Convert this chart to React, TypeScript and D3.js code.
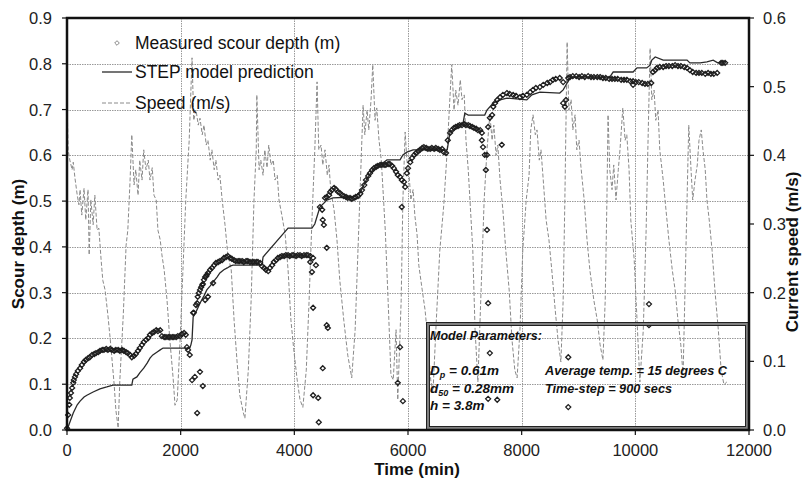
import React from "react";
import * as d3 from "d3";

type Pt = [number, number];

const timeTicks = [0, 2000, 4000, 6000, 8000, 10000, 12000];
const depthTicks = [0, 0.1, 0.2, 0.3, 0.4, 0.5, 0.6, 0.7, 0.8, 0.9];
const speedTicks = [0, 0.1, 0.2, 0.3, 0.4, 0.5, 0.6];

const legendLabels = ["Measured scour depth (m)", "STEP model prediction", "Speed (m/s)"];
const xTitle = "Time (min)";
const yLeftTitle = "Scour depth (m)";
const yRightTitle = "Current speed (m/s)";

// Measured scour depth (time min, depth m)
const measured: Pt[] = [
  [0, 0.004], [20, 0.033], [40, 0.055], [50, 0.07], [70, 0.081], [90, 0.092], [110, 0.103], [120, 0.109],
  [140, 0.116], [160, 0.122], [190, 0.129], [230, 0.135], [260, 0.142], [300, 0.149], [330, 0.153],
  [370, 0.157], [400, 0.159], [440, 0.164], [480, 0.166], [510, 0.168], [550, 0.17], [580, 0.173],
  [620, 0.175], [650, 0.175], [690, 0.177], [720, 0.175], [760, 0.177], [790, 0.175], [830, 0.173],
  [860, 0.175], [900, 0.175], [930, 0.173], [970, 0.175], [1000, 0.173], [1040, 0.17], [1070, 0.168],
  [1110, 0.164], [1140, 0.159], [1180, 0.162], [1210, 0.166], [1250, 0.173], [1280, 0.179], [1320, 0.186],
  [1350, 0.192], [1390, 0.197], [1430, 0.201], [1460, 0.208], [1500, 0.212], [1530, 0.214], [1570, 0.218],
  [1600, 0.216], [1640, 0.218], [1670, 0.205], [1710, 0.203], [1740, 0.203], [1780, 0.203], [1810, 0.203],
  [1850, 0.203], [1880, 0.203], [1920, 0.203], [1950, 0.205], [1990, 0.205], [2020, 0.21], [2060, 0.212],
  [2090, 0.208], [2110, 0.181], [2130, 0.175], [2160, 0.164],
  [2200, 0.109], [2250, 0.116], [2290, 0.037], [2340, 0.127], [2390, 0.096],
  [2220, 0.256], [2230, 0.256], [2270, 0.273], [2290, 0.277], [2300, 0.291], [2320, 0.299], [2340, 0.306],
  [2360, 0.312], [2380, 0.317], [2390, 0.319], [2410, 0.328], [2430, 0.334], [2450, 0.336], [2460, 0.339],
  [2480, 0.343], [2520, 0.35], [2550, 0.354], [2590, 0.36], [2620, 0.365], [2660, 0.367], [2690, 0.369],
  [2730, 0.371], [2760, 0.376], [2800, 0.378], [2830, 0.38], [2870, 0.376], [2900, 0.374], [2940, 0.371],
  [2430, 0.284], [2480, 0.291], [2570, 0.321],
  [2970, 0.369], [3010, 0.369], [3040, 0.369], [3080, 0.369], [3110, 0.367], [3150, 0.369], [3180, 0.369],
  [3220, 0.367], [3260, 0.367], [3290, 0.367], [3330, 0.367], [3360, 0.367], [3400, 0.365], [3430, 0.358],
  [3470, 0.354], [3500, 0.35], [3540, 0.347], [3570, 0.354], [3610, 0.36], [3640, 0.367], [3680, 0.371],
  [3710, 0.376], [3750, 0.378], [3780, 0.38], [3820, 0.38], [3850, 0.382], [3890, 0.382], [3920, 0.38],
  [3960, 0.382], [3990, 0.382], [4030, 0.38], [4060, 0.382], [4100, 0.382], [4130, 0.38], [4170, 0.382],
  [4210, 0.382], [4240, 0.382], [4280, 0.38],
  [4280, 0.367], [4310, 0.345], [4330, 0.376], [4380, 0.36], [4570, 0.398], [4330, 0.267], [4570, 0.229],
  [4590, 0.223], [4500, 0.135], [4330, 0.076], [4420, 0.07], [4430, 0.017],
  [4450, 0.487], [4490, 0.481], [4500, 0.459], [4520, 0.448], [4540, 0.507], [4570, 0.509], [4610, 0.513],
  [4630, 0.52], [4660, 0.524], [4700, 0.529], [4730, 0.526], [4770, 0.52], [4800, 0.518], [4840, 0.513],
  [4870, 0.511], [4910, 0.509], [4940, 0.507], [4980, 0.507], [5010, 0.505], [5050, 0.507], [5080, 0.509],
  [5120, 0.511], [5160, 0.516], [5190, 0.524], [5230, 0.535], [5260, 0.546], [5300, 0.555], [5330, 0.561],
  [5370, 0.568], [5400, 0.572], [5440, 0.575], [5470, 0.577], [5510, 0.579], [5540, 0.579], [5580, 0.579],
  [5610, 0.579], [5650, 0.581], [5680, 0.581], [5720, 0.577], [5750, 0.572], [5790, 0.564], [5820, 0.557],
  [5860, 0.553], [5890, 0.546], [5930, 0.542], [5950, 0.531],
  [5860, 0.181], [5820, 0.103], [5910, 0.063], [5890, 0.487],
  [5980, 0.561], [6000, 0.572], [6040, 0.585], [6070, 0.594], [6110, 0.601], [6140, 0.605], [6180, 0.609],
  [6210, 0.612], [6250, 0.616], [6280, 0.618], [6320, 0.616], [6350, 0.614], [6390, 0.614], [6420, 0.616],
  [6460, 0.614], [6490, 0.616], [6530, 0.614], [6560, 0.612], [6600, 0.614], [6630, 0.607], [6670, 0.605],
  [6700, 0.633], [6740, 0.649], [6770, 0.655], [6810, 0.66], [6840, 0.662], [6880, 0.664], [6910, 0.666],
  [6950, 0.666], [6990, 0.668], [7020, 0.666], [7060, 0.666], [7090, 0.664], [7130, 0.662], [7160, 0.66],
  [7200, 0.658], [7230, 0.655], [7270, 0.655], [7300, 0.649],
  [7300, 0.633], [7320, 0.618], [7350, 0.601], [7390, 0.601], [7370, 0.568], [7390, 0.437], [7410, 0.277],
  [7440, 0.168], [7410, 0.068], [7570, 0.066], [7650, 0.623],
  [7410, 0.662], [7440, 0.682], [7480, 0.688], [7500, 0.706], [7530, 0.714], [7570, 0.721], [7620, 0.727],
  [7670, 0.732], [7740, 0.736], [7790, 0.734], [7850, 0.732], [7900, 0.73], [7970, 0.727], [8020, 0.73],
  [8090, 0.732], [8150, 0.738], [8200, 0.743], [8250, 0.747], [8320, 0.749], [8380, 0.754], [8450, 0.758],
  [8500, 0.76], [8550, 0.765], [8600, 0.767], [8670, 0.769], [8730, 0.76],
  [8730, 0.714], [8760, 0.706], [8780, 0.721], [8820, 0.159], [8820, 0.05],
  [8820, 0.769], [8850, 0.771], [8900, 0.773], [8960, 0.773], [9010, 0.771], [9060, 0.773], [9110, 0.771],
  [9170, 0.773], [9220, 0.771], [9270, 0.771], [9330, 0.771], [9380, 0.771], [9430, 0.769], [9480, 0.769],
  [9540, 0.767], [9590, 0.767], [9640, 0.767], [9690, 0.767], [9750, 0.765], [9800, 0.765], [9850, 0.765],
  [9910, 0.762], [9960, 0.762], [10010, 0.76], [10060, 0.76], [10120, 0.758], [10170, 0.756], [10220, 0.756],
  [10280, 0.758],
  [9960, 0.754], [10240, 0.275], [10240, 0.229],
  [10310, 0.782], [10350, 0.786], [10380, 0.791], [10430, 0.793], [10490, 0.793], [10540, 0.795],
  [10590, 0.795], [10650, 0.795], [10700, 0.797], [10750, 0.795], [10800, 0.795], [10860, 0.793],
  [10910, 0.791], [10960, 0.786], [11010, 0.782], [11070, 0.78], [11120, 0.78], [11170, 0.78], [11230, 0.778],
  [11280, 0.78], [11330, 0.778], [11380, 0.778], [11440, 0.78],
  [11510, 0.802], [11540, 0.802], [11580, 0.802],
];

// STEP model prediction (time min, depth m)
const model: Pt[] = [
  [0, 0], [50, 0.017], [110, 0.037], [180, 0.055], [230, 0.063], [300, 0.072], [350, 0.076], [460, 0.083],
  [580, 0.09], [700, 0.094], [810, 0.098], [1140, 0.098], [1160, 0.111], [1230, 0.116], [1280, 0.125],
  [1350, 0.135], [1410, 0.146], [1460, 0.157], [1510, 0.164], [1580, 0.17], [1640, 0.175], [1690, 0.179],
  [2160, 0.179], [2180, 0.186], [2200, 0.197], [2220, 0.247], [2270, 0.258], [2340, 0.277], [2410, 0.293],
  [2460, 0.306], [2520, 0.315], [2570, 0.323], [2640, 0.334], [2690, 0.343], [2760, 0.35], [2820, 0.354],
  [2870, 0.358], [2920, 0.36], [3430, 0.36], [3450, 0.378], [3890, 0.441], [4310, 0.441], [4360, 0.45],
  [4450, 0.487], [4570, 0.502], [4680, 0.507], [5030, 0.509], [5160, 0.518], [5280, 0.55], [5380, 0.568],
  [5510, 0.579], [5630, 0.59], [5860, 0.59], [5910, 0.601], [5980, 0.607], [6090, 0.612], [6690, 0.612],
  [6740, 0.651], [6860, 0.662], [6970, 0.671], [7000, 0.692], [7060, 0.688], [7350, 0.688], [7390, 0.699],
  [7500, 0.714], [7620, 0.721], [7740, 0.725], [8090, 0.721], [8180, 0.732], [8320, 0.738], [8670, 0.736],
  [8730, 0.743], [8800, 0.758], [8850, 0.769], [8900, 0.771], [9550, 0.771], [9610, 0.782], [9960, 0.782],
  [10030, 0.791], [10200, 0.791], [10260, 0.797], [10290, 0.808], [10350, 0.815], [10490, 0.808],
  [10910, 0.808], [10960, 0.802], [11140, 0.802], [11260, 0.804], [11370, 0.808], [11450, 0.802],
  [11540, 0.802],
];

// Current speed (time min, speed m/s)
const speed: Pt[] = [
  [0, 0.483], [20, 0.408], [50, 0.393], [90, 0.379], [110, 0.39], [140, 0.367], [180, 0.342], [210, 0.328],
  [230, 0.35], [260, 0.313], [300, 0.352], [330, 0.306], [370, 0.35], [390, 0.255], [420, 0.335],
  [460, 0.299], [490, 0.342], [530, 0.291], [560, 0.294], [600, 0.248], [630, 0.218], [670, 0.204],
  [720, 0.167], [770, 0.124], [830, 0.066], [860, 0.029], [900, 0.003], [930, 0.073], [990, 0.167],
  [1040, 0.269], [1070, 0.291], [1110, 0.364], [1140, 0.43], [1180, 0.357], [1210, 0.379], [1250, 0.342],
  [1280, 0.393], [1320, 0.364], [1350, 0.408], [1390, 0.379], [1430, 0.393], [1460, 0.364], [1500, 0.382],
  [1530, 0.342], [1570, 0.335], [1600, 0.291], [1640, 0.277], [1670, 0.255], [1710, 0.233], [1760, 0.189],
  [1810, 0.131], [1870, 0.073], [1900, 0.036], [1940, 0.044], [1990, 0.131], [2040, 0.233], [2090, 0.335],
  [2150, 0.422], [2200, 0.542], [2230, 0.451], [2270, 0.466], [2310, 0.444], [2340, 0.454], [2380, 0.43],
  [2410, 0.444], [2450, 0.415], [2480, 0.422], [2520, 0.393], [2550, 0.408], [2590, 0.379], [2620, 0.393],
  [2660, 0.364], [2690, 0.371], [2730, 0.335], [2780, 0.299], [2830, 0.255], [2890, 0.233], [2940, 0.16],
  [2990, 0.102], [3040, 0.051], [3100, 0.026], [3130, 0.017], [3190, 0.087], [3240, 0.189], [3290, 0.335],
  [3330, 0.408], [3340, 0.488], [3380, 0.379], [3410, 0.393], [3450, 0.371], [3480, 0.408], [3520, 0.382],
  [3550, 0.415], [3590, 0.386], [3630, 0.393], [3660, 0.364], [3700, 0.371], [3730, 0.335], [3780, 0.313],
  [3840, 0.284], [3890, 0.233], [3940, 0.16], [3990, 0.117], [4050, 0.073], [4100, 0.044], [4150, 0.033],
  [4210, 0.087], [4260, 0.189], [4310, 0.306], [4360, 0.408], [4400, 0.507], [4430, 0.408], [4470, 0.415],
  [4500, 0.386], [4540, 0.408], [4580, 0.371], [4610, 0.386], [4640, 0.35], [4700, 0.32], [4750, 0.277],
  [4800, 0.218], [4870, 0.16], [4940, 0.109], [5010, 0.076], [5070, 0.146], [5120, 0.262], [5170, 0.379],
  [5210, 0.473], [5240, 0.43], [5280, 0.466], [5310, 0.437], [5350, 0.481], [5380, 0.532], [5420, 0.451],
  [5450, 0.469], [5490, 0.422], [5530, 0.393], [5560, 0.35], [5600, 0.291], [5650, 0.189], [5700, 0.08],
  [5740, 0.073], [5790, 0.146], [5820, 0.044], [5880, 0.189], [5910, 0.335], [5950, 0.434], [5980, 0.393],
  [6020, 0.371], [6050, 0.335], [6090, 0.35], [6120, 0.313], [6160, 0.284], [6190, 0.24], [6250, 0.204],
  [6300, 0.175], [6350, 0.131], [6400, 0.073], [6440, 0.055], [6490, 0.146], [6560, 0.262], [6630, 0.328],
  [6690, 0.408], [6740, 0.488], [6770, 0.532], [6810, 0.466], [6840, 0.495], [6880, 0.473], [6920, 0.51],
  [6950, 0.481], [6990, 0.488], [7020, 0.422], [7060, 0.379], [7090, 0.335], [7140, 0.262], [7180, 0.146],
  [7230, 0.07], [7280, 0.189], [7340, 0.335], [7390, 0.408], [7440, 0.459], [7480, 0.422], [7510, 0.444],
  [7550, 0.4], [7580, 0.415], [7620, 0.364], [7670, 0.32], [7720, 0.262], [7780, 0.204], [7830, 0.131],
  [7880, 0.087], [7920, 0.076], [7970, 0.146], [8020, 0.262], [8080, 0.335], [8130, 0.371], [8160, 0.437],
  [8200, 0.459], [8240, 0.43], [8270, 0.437], [8310, 0.393], [8340, 0.408], [8380, 0.364], [8430, 0.306],
  [8480, 0.277], [8530, 0.233], [8590, 0.175], [8640, 0.131], [8690, 0.099], [8730, 0.189], [8760, 0.335],
  [8800, 0.565], [8830, 0.466], [8870, 0.481], [8900, 0.437], [8940, 0.459], [8970, 0.408], [9010, 0.422],
  [9040, 0.386], [9100, 0.335], [9150, 0.277], [9200, 0.233], [9270, 0.189], [9330, 0.16], [9380, 0.124],
  [9430, 0.102], [9470, 0.189], [9500, 0.335], [9520, 0.459], [9550, 0.379], [9590, 0.35], [9620, 0.386],
  [9660, 0.335], [9700, 0.379], [9730, 0.408], [9780, 0.469], [9820, 0.422], [9850, 0.43], [9890, 0.379],
  [9920, 0.306], [9980, 0.248], [10030, 0.16], [10080, 0.07], [10140, 0.146], [10190, 0.291], [10220, 0.408],
  [10260, 0.556], [10290, 0.481], [10330, 0.495], [10360, 0.451], [10400, 0.466], [10430, 0.408],
  [10490, 0.364], [10540, 0.32], [10590, 0.277], [10650, 0.233], [10700, 0.204], [10750, 0.16],
  [10800, 0.124], [10840, 0.08], [10870, 0.189], [10910, 0.335], [10940, 0.444], [10980, 0.379],
  [11010, 0.335], [11050, 0.364], [11090, 0.386], [11120, 0.422], [11160, 0.437], [11190, 0.408],
  [11230, 0.379], [11260, 0.335], [11300, 0.306], [11350, 0.262], [11400, 0.204], [11460, 0.146],
  [11510, 0.087], [11560, 0.066], [11610, 0.07],
];

const FONT = "'Liberation Sans', Arial, Helvetica, sans-serif";

export default function App() {
  const W = 803;
  const H = 480;
  const L = 67, R = 749, T = 18, B = 430;

  const x = d3.scaleLinear().domain([0, 12000]).range([L, R]);
  const yD = d3.scaleLinear().domain([0, 0.9]).range([B, T]);
  const yS = d3.scaleLinear().domain([0, 0.6]).range([B, T]);

  const modelPath = d3.line<Pt>().x((d) => x(d[0])).y((d) => yD(d[1]))(model) || "";
  const speedPath = d3.line<Pt>().x((d) => x(d[0])).y((d) => yS(d[1]))(speed) || "";
  const diamond = (cx: number, cy: number, r: number) =>
    `M${cx},${cy - r}L${cx + r},${cy}L${cx},${cy + r}L${cx - r},${cy}Z`;

  const boxX = 426, boxY = 322, boxW = R - 426, boxH = B - 322;

  return (
    <svg
      width={W}
      height={H}
      viewBox={`0 0 ${W} ${H}`}
      style={{ position: "absolute", left: 0, top: 0, background: "#fff" }}
      fontFamily={FONT}
    >
      <rect x={0} y={0} width={W} height={H} fill="#fff" />
      {/* gridlines */}
      <g stroke="#999" strokeWidth={1} strokeDasharray="1.5,1">
        {depthTicks.slice(1, -1).map((t) => (
          <line key={"h" + t} x1={L} x2={R} y1={Math.round(yD(t)) + 0.5} y2={Math.round(yD(t)) + 0.5} />
        ))}
        {timeTicks.slice(1, -1).map((t) => (
          <line key={"v" + t} x1={Math.round(x(t)) + 0.5} x2={Math.round(x(t)) + 0.5} y1={T} y2={B} />
        ))}
      </g>

      {/* speed */}
      <path d={speedPath} fill="none" stroke="#8a8a8a" strokeWidth={1} strokeDasharray="4,2" />
      {/* model */}
      <path d={modelPath} fill="none" stroke="#2a2a2a" strokeWidth={1.3} />
      {/* measured */}
      <g fill="none" stroke="#1e1e1e" strokeWidth={1.3}>
        {measured.map((d, i) => (
          <path key={i} d={diamond(x(d[0]), yD(d[1]), 2.5)} />
        ))}
      </g>

      {/* model parameters box */}
      <g fill="none">
        <rect x={boxX + 1.5} y={boxY + 1.5} width={boxW - 3} height={boxH - 3} stroke="#808080" strokeWidth={3} />
        <rect x={boxX + 0.5} y={boxY + 0.5} width={boxW - 1} height={boxH - 1} stroke="#222" strokeWidth={1} />
        <rect x={boxX + 3.5} y={boxY + 3.5} width={boxW - 7} height={boxH - 7} stroke="#222" strokeWidth={1} />
      </g>
      <g fontSize={13.5} fontWeight="bold" fontStyle="italic" fill="#111">
        <text x={430} y={340} textLength={112} lengthAdjust="spacingAndGlyphs">Model Parameters:</text>
        <text x={430} y={375}>
          D<tspan fontSize={9} dy={3}>p</tspan>
          <tspan dy={-3}> = 0.61m</tspan>
        </text>
        <text x={430} y={393}>
          d<tspan fontSize={9} dy={3}>50</tspan>
          <tspan dy={-3}> = 0.28mm</tspan>
        </text>
        <text x={430} y={410}>h = 3.8m</text>
        <text x={545} y={375} textLength={182} lengthAdjust="spacingAndGlyphs">Average temp. = 15 degrees C</text>
        <text x={545} y={393} textLength={127} lengthAdjust="spacingAndGlyphs">Time-step = 900 secs</text>
      </g>

      {/* legend */}
      <g fontSize={17.5} fill="#111">
        <path d={diamond(117, 43, 2.3)} fill="none" stroke="#888" strokeWidth={1} />
        <text x={135} y={49}>{legendLabels[0]}</text>
        <line x1={102} x2={132} y1={72} y2={72} stroke="#2a2a2a" strokeWidth={1.3} />
        <text x={135} y={78}>{legendLabels[1]}</text>
        <line x1={102} x2={132} y1={103} y2={103} stroke="#8a8a8a" strokeWidth={1} strokeDasharray="4,2" />
        <text x={135} y={109}>{legendLabels[2]}</text>
      </g>

      {/* frame */}
      <rect x={L} y={T} width={R - L} height={B - T} fill="none" stroke="#111" strokeWidth={2.5} />

      {/* axes ticks & labels */}
      <g stroke="#111" strokeWidth={1.2}>
        {depthTicks.map((t) => (
          <line key={"lt" + t} x1={L - 5} x2={L} y1={yD(t)} y2={yD(t)} />
        ))}
        {speedTicks.map((t) => (
          <line key={"rt" + t} x1={R} x2={R + 5} y1={yS(t)} y2={yS(t)} />
        ))}
        {timeTicks.map((t) => (
          <line key={"bt" + t} x1={x(t)} x2={x(t)} y1={B} y2={B + 5} />
        ))}
      </g>
      <g fontSize={16.5} fill="#222">
        {depthTicks.map((t) => (
          <text key={"ll" + t} x={52} y={yD(t)} textAnchor="end" dominantBaseline="central">
            {d3.format(".1f")(t)}
          </text>
        ))}
        {speedTicks.map((t) => (
          <text key={"rl" + t} x={763} y={yS(t)} textAnchor="start" dominantBaseline="central">
            {d3.format(".1f")(t)}
          </text>
        ))}
        {timeTicks.map((t) => (
          <text key={"bl" + t} x={x(t)} y={456} textAnchor="middle">
            {d3.format("d")(t)}
          </text>
        ))}
      </g>

      {/* titles */}
      <g fontSize={17} fontWeight="bold" fill="#111">
        <text x={417} y={475} textAnchor="middle">{xTitle}</text>
        <text transform="translate(24,244) rotate(-90)" textAnchor="middle">{yLeftTitle}</text>
        <text transform="translate(798,252) rotate(-90)" textAnchor="middle">{yRightTitle}</text>
      </g>
    </svg>
  );
}
